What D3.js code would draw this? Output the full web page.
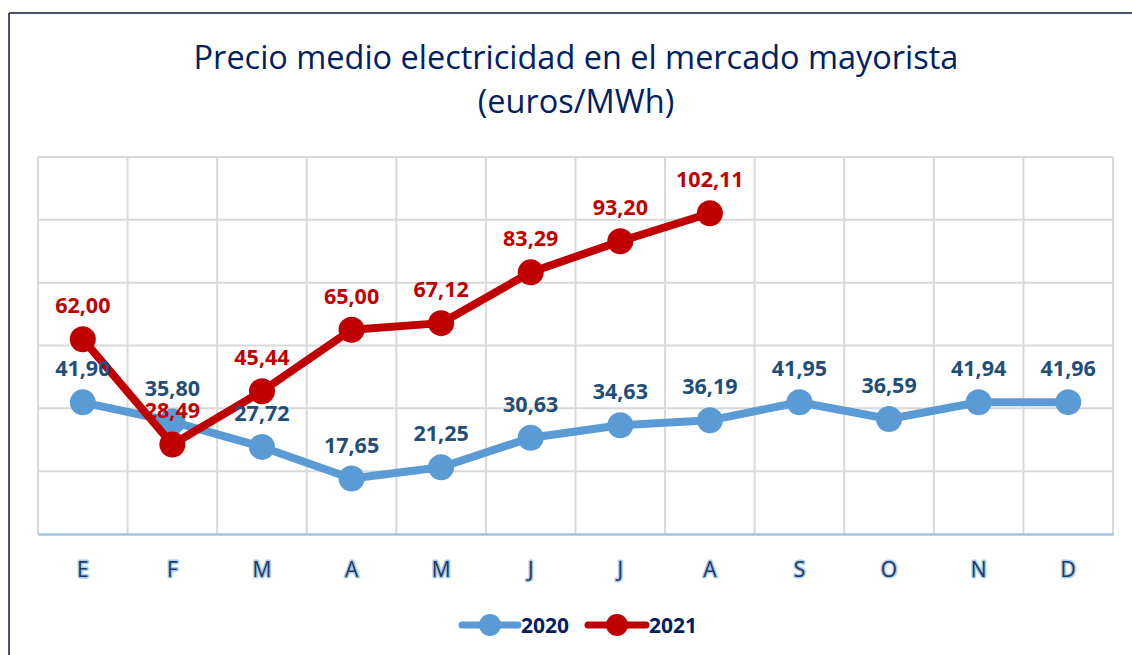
<!DOCTYPE html>
<html><head><meta charset="utf-8">
<script src="https://cdn.jsdelivr.net/npm/d3@7"></script>
<style>
html,body{margin:0;padding:0;background:#fff;}
svg{display:block;}
</style>
</head><body>
<svg id="chart" width="1132" height="655"></svg>
<script>
const months = ["E","F","M","A","M","J","J","A","S","O","N","D"];
const values2020 = [41.90,35.80,27.72,17.65,21.25,30.63,34.63,36.19,41.95,36.59,41.94,41.96];
const values2021 = [62.00,28.49,45.44,65.00,67.12,83.29,93.20,102.11];
const yTicks = [0,20,40,60,80,100,120];
const titleLines = ["Precio medio electricidad en el mercado mayorista","(euros/MWh)"];
const seriesNames = ["2020","2021"];

const svg = d3.select("#chart");
const W = 1132, H = 655;
const plot = {left:38, right:1113, top:157, bottom:534};

// frame
svg.append("line").attr("x1",9).attr("x2",W).attr("y1",13).attr("y2",13).attr("stroke","#4a5466").attr("stroke-width",2);
svg.append("line").attr("x1",9).attr("x2",9).attr("y1",13).attr("y2",H).attr("stroke","#4a5466").attr("stroke-width",2);

const idx = d3.range(months.length);
const x = d3.scaleBand().domain(idx).range([plot.left, plot.right]);
const y = d3.scaleLinear().domain([0,120]).range([plot.bottom, plot.top]);
const cx = i => x(i) + x.bandwidth()/2;

// gridlines
const g = svg.append("g");
g.selectAll("line.h").data(yTicks.filter(t=>t>0)).enter().append("line")
  .attr("x1",plot.left).attr("x2",plot.right).attr("y1",d=>y(d)).attr("y2",d=>y(d))
  .attr("stroke","#d9d9d9").attr("stroke-width",2);
g.selectAll("line.v").data(d3.range(months.length+1)).enter().append("line")
  .attr("x1",d=>plot.left + d*x.bandwidth()).attr("x2",d=>plot.left + d*x.bandwidth())
  .attr("y1",plot.top).attr("y2",plot.bottom)
  .attr("stroke","#d9d9d9").attr("stroke-width",2);

// x axis
const xAxis = d3.axisBottom(x).tickSize(0).tickFormat(i=>months[i]);
const ax = svg.append("g").attr("transform",`translate(0,${plot.bottom})`).call(xAxis);
ax.select(".domain").attr("stroke","#9dc3e6").attr("stroke-width",2.5);
ax.selectAll("text").attr("dy",null).attr("y",43)
  .attr("font-family","'Open Sans', sans-serif").attr("font-size",21).attr("font-weight",500)
  .attr("fill","#1f3864").attr("stroke","#a9cbea").attr("stroke-width",3)
  .attr("paint-order","stroke").attr("stroke-linejoin","round");

// title
const title = svg.append("g");
const tl1 = title.append("text").attr("x",576).attr("y",69).attr("text-anchor","middle")
  .attr("font-family","'Open Sans', sans-serif").attr("font-size",30).attr("fill","#002060").text(titleLines[0]);
const w = tl1.node().getComputedTextLength();
const fs = 30*765/w;
tl1.attr("font-size",fs);
title.append("text").attr("x",576).attr("y",113).attr("text-anchor","middle")
  .attr("font-family","'Open Sans', sans-serif").attr("font-size",fs).attr("fill","#002060").text(titleLines[1]);

// series
const series = [
  {name:seriesNames[0], vals:values2020, color:"#5b9bd5", label:"#1f4e79"},
  {name:seriesNames[1], vals:values2021, color:"#c00000", label:"#c00000"}
];
const line = d3.line().x((d,i)=>cx(i)).y(d=>y(d));
series.forEach(s=>{
  svg.append("path").datum(s.vals).attr("d",line).attr("fill","none")
    .attr("stroke",s.color).attr("stroke-width",8).attr("stroke-linejoin","round");
  svg.append("g").selectAll("circle").data(s.vals).enter().append("circle")
    .attr("cx",(d,i)=>cx(i)).attr("cy",d=>y(d)).attr("r",13).attr("fill",s.color);
});
const fmt = v => v.toFixed(2).replace(".",",");
series.forEach(s=>{
  svg.append("g").selectAll("text").data(s.vals).enter().append("text")
    .attr("x",(d,i)=>cx(i)).attr("y",d=>y(d)-26).attr("text-anchor","middle")
    .attr("font-family","'Open Sans', sans-serif").attr("font-size",21.5).attr("font-weight",700)
    .attr("fill",s.label).text(fmt);
});

// legend
const legend = [
  {name:seriesNames[0], color:"#5b9bd5", x1:462, x2:518, tx:521},
  {name:seriesNames[1], color:"#c00000", x1:588, x2:646, tx:649}
];
const ly = 625;
legend.forEach(l=>{
  svg.append("line").attr("x1",l.x1).attr("x2",l.x2).attr("y1",ly).attr("y2",ly)
    .attr("stroke",l.color).attr("stroke-width",7).attr("stroke-linecap","round");
  svg.append("circle").attr("cx",(l.x1+l.x2)/2).attr("cy",ly).attr("r",11).attr("fill",l.color);
  svg.append("text").attr("x",l.tx).attr("y",ly+7.5).attr("font-family","'Open Sans', sans-serif")
    .attr("font-size",21).attr("font-weight",700).attr("fill","#002060").text(l.name);
});
</script>
</body></html>
